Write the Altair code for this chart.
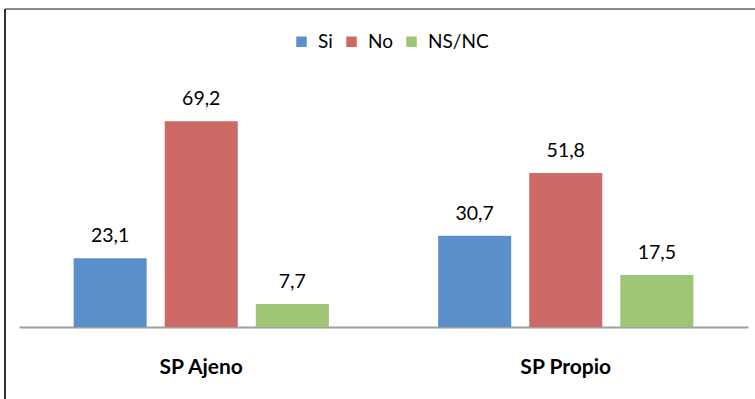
import altair as alt
import pandas as pd

groups = ["SP Ajeno", "SP Propio"]
series = ["Si", "No", "NS/NC"]
si_values = [23.1, 30.7]
no_values = [69.2, 51.8]
nsnc_values = [7.7, 17.5]
colors = ["#5b8fc9", "#cd6a65", "#9dc573"]

rows = []
for s, vals in zip(series, [si_values, no_values, nsnc_values]):
    for g, v in zip(groups, vals):
        rows.append({"grupo": g, "serie": s, "valor": v,
                     "etiqueta": f"{v:.1f}".replace(".", ",")})
df = pd.DataFrame(rows)

W, H = 729, 238

base = alt.Chart(df).encode(
    x=alt.X("grupo:N", sort=groups,
            scale=alt.Scale(paddingInner=0, paddingOuter=0),
            axis=alt.Axis(title=None, labelAngle=0, ticks=False, tickSize=0,
                          domainColor="#a0a0a0", domainWidth=2,
                          labelFont="Lato", labelFontWeight="bold",
                          labelFontSize=21, labelColor="#000000",
                          labelBaseline="alphabetic", labelPadding=46,
                          grid=False)),
    xOffset=alt.XOffset("serie:N", sort=series,
                        scale=alt.Scale(paddingInner=0.198, paddingOuter=0.6)),
    y=alt.Y("valor:Q", scale=alt.Scale(domain=[0, 80]), axis=None),
)

bars = base.mark_bar().encode(
    color=alt.Color("serie:N", sort=series,
                    scale=alt.Scale(domain=series, range=colors),
                    legend=alt.Legend(title=None, orient="none", legendX=273,
                                      legendY=-57, direction="horizontal",
                                      symbolType="square", symbolSize=110,
                                      symbolStrokeWidth=0, labelFont="Lato",
                                      labelFontSize=19, labelColor="#000000",
                                      labelOffset=7, columnPadding=9,
                                      padding=0))
)

labels = base.mark_text(baseline="alphabetic", dy=-16, font="Lato",
                        fontSize=19.5, color="#000000").encode(text="etiqueta:N")

frame_data = pd.DataFrame({"k": [0]})
top_line = alt.Chart(frame_data).mark_rule(color="#8a8a8a", strokeWidth=2).encode(
    x=alt.value(-14), x2=alt.value(736), y=alt.value(-80))
left_line = alt.Chart(frame_data).mark_rule(color="#333333", strokeWidth=2).encode(
    x=alt.value(-14), y=alt.value(-80), y2=alt.value(310))

chart = alt.layer(bars, labels, top_line, left_line).properties(
    width=W, height=H,
    autosize=alt.AutoSizeParams(type="none"),
    padding={"left": 19, "top": 89, "right": 7, "bottom": 72},
    background="white",
).configure_view(stroke=None)

chart.save("out.html", embed_options={"renderer": "svg", "actions": False})
